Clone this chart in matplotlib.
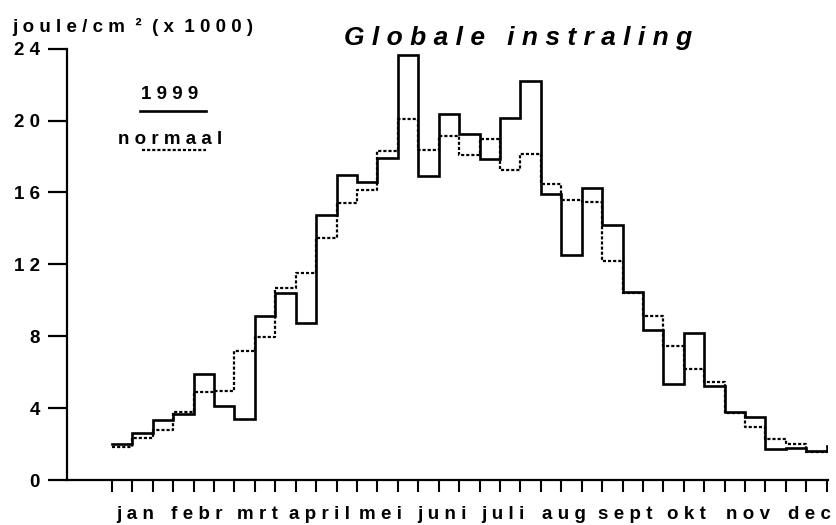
import numpy as np
import matplotlib
matplotlib.use("Agg")
import matplotlib.pyplot as plt

plt.rcParams['font.family'] = ['Liberation Sans', 'DejaVu Sans']
plt.rcParams['font.weight'] = 'bold'

# decade values (3 per month), joule/cm2 x 1000
irr_1999 = [2.02, 2.60, 3.34, 3.67, 5.90, 4.12, 3.38, 9.13, 10.39, 8.72,
            14.75, 17.00, 16.57, 17.90, 23.63, 16.90, 20.38, 19.24, 17.86, 20.13,
            22.20, 15.92, 12.52, 16.27, 14.19, 10.48, 8.35, 5.32, 8.16, 5.23,
            3.80, 3.49, 1.74, 1.80, 1.63, 1.90]
irr_normaal = [1.85, 2.35, 2.78, 3.80, 4.91, 4.97, 7.18, 7.98, 10.70, 11.50,
               13.45, 15.40, 16.15, 18.30, 20.09, 18.36, 19.16, 18.09, 18.98, 17.25,
               18.14, 16.47, 15.58, 15.45, 12.20, 10.39, 9.13, 7.47, 6.18, 5.47,
               3.71, 2.93, 2.26, 1.98, 1.58, 1.60]
months = ['jan', 'febr', 'mrt', 'april', 'mei', 'juni',
          'juli', 'aug', 'sept', 'okt', 'nov', 'dec']
yticks = [0, 4, 8, 12, 16, 20, 24]


def spread(s, sep=' '):
    # wide letter spacing like the original
    return sep.join(s)


fig = plt.figure(figsize=(8.37, 5.25), dpi=100)
ax = fig.add_axes([0.080, 0.0857, 0.909, 0.8215])

x = np.arange(len(irr_1999) + 1)
ax.step(x, irr_1999 + irr_1999[-1:], where='post', color='black', lw=1.9,
        solid_joinstyle='miter')
ax.step(x, irr_normaal + irr_normaal[-1:], where='post', color='black', lw=1.6,
        linestyle=(0, (1.4, 0.9)))

ax.set_xlim(-2.2, 35.05)
ax.set_ylim(0, 24)

for s in ['top', 'right']:
    ax.spines[s].set_visible(False)
for s in ['left', 'bottom']:
    ax.spines[s].set_linewidth(1.6)

ax.set_yticks(yticks)
ax.set_yticklabels([spread(str(v)) for v in yticks], fontsize=13.5, fontweight='bold')
ax.tick_params(axis='y', length=13.5, width=1.6, pad=6)

ax.set_xticks(np.arange(36))
ax.set_xticklabels([])
ax.tick_params(axis='x', which='major', length=8.5, width=1.5)
ax.set_xticks(np.arange(12) * 3 + 1.5 - 0.35, minor=True)
ax.set_xticklabels([spread(m, '\u2009\u200a') for m in months], minor=True,
                   fontsize=13.5, fontweight='bold')
ax.tick_params(axis='x', which='minor', length=0, pad=19)

# legend: label above line
ax.text(0.135, 0.895, spread('1999'), transform=ax.transAxes, ha='center', va='center',
        fontsize=13.5, fontweight='bold')
ax.plot([0.096, 0.183], [0.856, 0.856], transform=ax.transAxes, color='black', lw=1.9)
ax.text(0.135, 0.790, spread('normaal'), transform=ax.transAxes, ha='center', va='center',
        fontsize=13.5, fontweight='bold')
ax.plot([0.099, 0.183], [0.765, 0.765], transform=ax.transAxes, color='black', lw=1.6,
        linestyle=(0, (1.4, 0.9)))

fig.text(0.619, 0.914, spread('Globale') + '   ' + spread('instraling'),
         ha='center', va='baseline', fontsize=19, fontweight='bold', fontstyle='italic')
fig.text(0.0143, 0.939, spread('joule/cm') + '  \u00b2  ' + spread('(x') + '  ' + spread('1000)'),
         ha='left', va='baseline', fontsize=13.5, fontweight='bold')

fig.savefig('out.png', dpi=100)
